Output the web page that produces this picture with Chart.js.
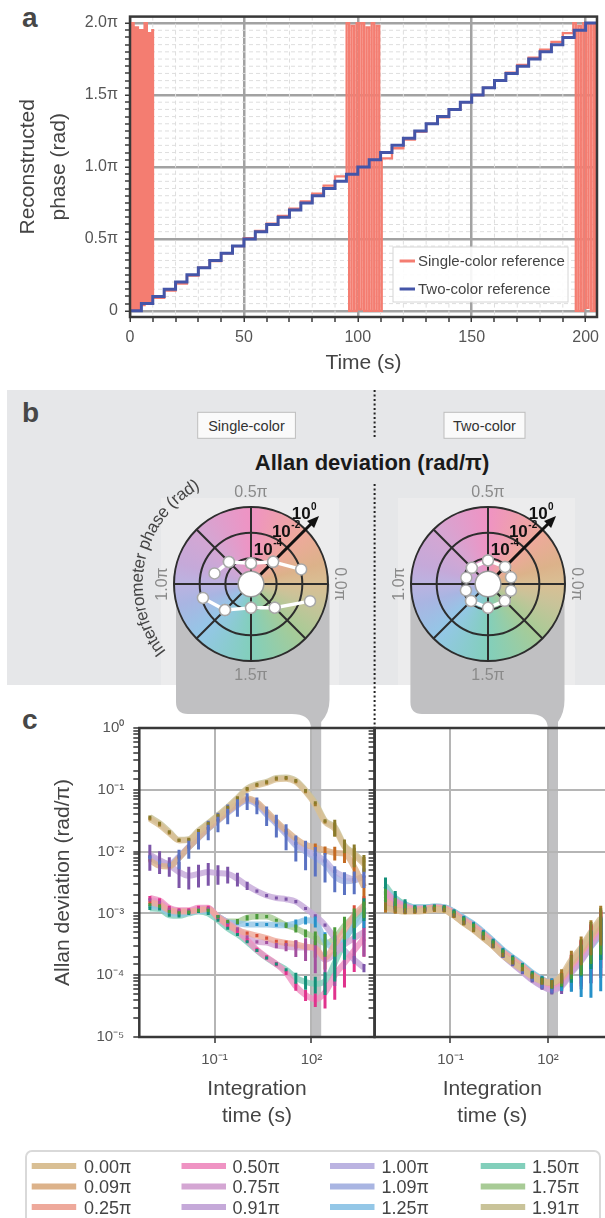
<!DOCTYPE html>
<html>
<head>
<meta charset="utf-8">
<title>Phase reconstruction and Allan deviation</title>
<script src="https://cdn.jsdelivr.net/npm/chart.js@4.4.1/dist/chart.umd.min.js"></script>
<style>
  html, body { margin: 0; padding: 0; }
  body { position: relative; width: 605px; height: 1218px; overflow: hidden; background: #fff; }
  .layer { position: absolute; left: 0; top: 0; }
  canvas { position: absolute; }
</style>
</head>
<body>
<svg class="layer" id="back" width="605" height="1218" font-family="'Liberation Sans', Arial, sans-serif">
  <!-- panel b background -->
  <rect x="7" y="390" width="598" height="295" fill="#e6e7e9"/>
  <rect x="161" y="498" width="178" height="187" fill="#ececed"/>
  <rect x="398" y="498" width="177" height="187" fill="#ececed"/>
  <!-- gray funnels: wheel slice -> highlighted integration time -->
  <path d="M176,584 H329.5 V700 Q329.5,713 321.2,722 V1037 H310.8 V726 Q309,714 292,714 H188 Q176,714 176,702 Z" fill="#c0c0c2"/>
  <path d="M410.4,584 H564.5 V700 Q564.5,713 558,722 V1037 H547.6 V726 Q546,714 529,714 H422 Q410.4,714 410.4,702 Z" fill="#c0c0c2"/>
  <!-- dotted divider -->
  <line x1="374.6" y1="390" x2="374.6" y2="438" stroke="#222" stroke-width="2" stroke-dasharray="2 2.5"/>
  <line x1="374.6" y1="484" x2="374.6" y2="728" stroke="#222" stroke-width="2" stroke-dasharray="2 2.5"/>
  <!-- panel letters -->
  <text x="22" y="26.7" font-size="28" font-weight="bold" fill="#474747">a</text>
  <text x="22" y="421.7" font-size="28" font-weight="bold" fill="#474747">b</text>
  <text x="22" y="728.6" font-size="28" font-weight="bold" fill="#474747">c</text>
  <!-- panel b headers -->
  <rect x="197.7" y="412.3" width="97.7" height="26" fill="#fafafa" stroke="#bdbdbd" stroke-width="1"/>
  <text x="246.5" y="430.5" font-size="14.5" fill="#333" text-anchor="middle">Single-color</text>
  <rect x="444" y="412.3" width="81" height="26" fill="#fafafa" stroke="#bdbdbd" stroke-width="1"/>
  <text x="484.5" y="430.5" font-size="14.5" fill="#333" text-anchor="middle">Two-color</text>
  <text x="372" y="469.5" font-size="22" font-weight="bold" fill="#1a1a1a" text-anchor="middle">Allan deviation (rad/π)</text>
</svg>

<canvas id="phaseChart" width="605" height="380" style="left:0;top:0"></canvas>
<canvas id="wheelSingle" width="280" height="280" style="left:111px;top:444px"></canvas>
<canvas id="wheelTwo" width="280" height="280" style="left:348px;top:444px"></canvas>
<canvas id="allanSingle" width="376" height="460" style="left:0;top:700px"></canvas>
<canvas id="allanTwo" width="250" height="460" style="left:360px;top:700px"></canvas>

<svg class="layer" id="front" width="605" height="1218" font-family="'Liberation Sans', Arial, sans-serif">
  <!-- panel a legend -->
  <rect x="393" y="247" width="175" height="55" fill="rgba(255,255,255,0.9)" stroke="#d6d6d6" stroke-width="1"/>
  <line x1="399.6" y1="261" x2="415" y2="261" stroke="#f47d71" stroke-width="3"/>
  <text x="418" y="266.3" font-size="15" fill="#444">Single-color reference</text>
  <line x1="399.6" y1="289" x2="415" y2="289" stroke="#4455a8" stroke-width="3"/>
  <text x="418" y="294.3" font-size="15" fill="#444">Two-color reference</text>
  <!-- panel c legend frame -->
  <rect x="26" y="1151" width="574" height="90" rx="6" fill="#fff" stroke="#d9d9d9" stroke-width="2"/>
  <g id="phaseLegend"></g>
</svg>

<script>
Chart.defaults.font.family = "'Liberation Sans', Arial, sans-serif";
Chart.defaults.color = "#555";

/* ================== PANEL A DATA ================== */
// two-color reference: one 0.05π step every 5 s
const twoColorTime = [0,5,10,15,20,25,30,35,40,45,50,55,60,65,70,75,80,85,90,95,100,105,110,115,120,125,130,135,140,145,150,155,160,165,170,175,180,185,190,195,200,205];
const twoColorPhase = [0,0.05,0.10,0.15,0.20,0.25,0.30,0.35,0.40,0.45,0.50,0.55,0.60,0.65,0.70,0.75,0.80,0.85,0.90,0.95,1.00,1.05,1.10,1.15,1.20,1.25,1.30,1.35,1.40,1.45,1.50,1.55,1.60,1.65,1.70,1.75,1.80,1.85,1.90,1.95,2.00,2.00];

// single-color reference: same steps, slightly off, wrapping 0 <-> 2π near 0 and π
const singleColorTime = [0,0.6,1.6,2.5,3.5,4.4,5.4,6.4,7.4,8.3,9.3,9.8,10.1,
  15,20,25,30,35,40,45,50,55,60,65,70,75,80,85,90,
  95.1,96.2,97.3,98.4,99.5,100.6,101.7,102.8,103.9,105.0,106.1,107.2,108.3,109.4,110.5,
  115,120,125,130,135,140,145,150,155,160,165,170,175,180,185,190,
  194.6,195.7,196.8,197.9,199.0,200.1,201.2,202.3,203.4,204.4,204.8,205];
const singleColorPhase = [0,2.0,0.0,1.97,0.01,1.95,0.04,2.0,0.05,1.93,0.05,1.95,0.09,
  0.14,0.19,0.245,0.30,0.345,0.40,0.45,0.505,0.555,0.605,0.66,0.71,0.76,0.815,0.87,0.935,
  2.0,0.0,1.98,0.0,2.0,0.01,2.0,0.0,1.97,0.0,2.0,0.0,1.98,0.0,1.06,
  1.13,1.19,1.245,1.30,1.345,1.40,1.45,1.50,1.55,1.60,1.655,1.71,1.76,1.815,1.87,1.93,
  2.0,0.0,1.98,0.0,2.0,0.02,2.0,0.0,2.0,0.0,2.0,2.0];

/* ================== PANEL C DATA ================== */
// integration times (s)
const tau = [0.001,0.002,0.004,0.008,0.016,0.032,0.064,0.128,0.256,0.512,1.024,2.048,4.096,8.192,16.384,32.768,65.536,131.072,262.144,524.288,1048.576,2097.152,4194.304];

const phaseNames = ["0.00π","0.09π","0.25π","0.50π","0.75π","0.91π","1.00π","1.09π","1.25π","1.50π","1.75π","1.91π"];
const phaseValues = [0, 0.09, 0.25, 0.5, 0.75, 0.91, 1.0, 1.09, 1.25, 1.5, 1.75, 1.91];
const pastelColors = ["#d9bf94","#dcb28a","#eea99b","#ef93c3","#d4a6d3","#c5a9d9","#bbb3e1","#a9b5e2","#94c7e7","#82cfbb","#a8cb96","#c9c399"];
const darkColors = ["#a57c2c","#c46a22","#d9513a","#e0338d","#a3509f","#7d55a8","#6467b5","#5a72c2","#2591c9","#139079","#4a9a3a","#8a7b2b"];

// log10 Allan deviation (rad/π), single-color reference
const single000 = [-1.47,-1.57,-1.70,-1.82,-1.81,-1.68,-1.56,-1.43,-1.30,-1.15,-1.00,-0.93,-0.89,-0.83,-0.82,-0.87,-1.03,-1.24,-1.52,-1.63,-1.92,-2.05,-2.20];
const single009 = [-2.14,-2.23,-2.24,-2.10,-1.93,-1.77,-1.62,-1.49,-1.35,-1.23,-1.14,-1.20,-1.35,-1.51,-1.66,-1.79,-1.89,-1.93,-1.98,-2.02,-2.03,-2.25,-2.57];
const single025 = [-2.82,-2.86,-2.95,-2.97,-2.97,-2.95,-2.93,-3.06,-3.17,-3.27,-3.32,-3.36,-3.40,-3.45,-3.48,-3.50,-3.54,-3.56,-3.72,-3.50,-3.27,-3.03,-2.87];
const single050 = [-2.75,-2.79,-2.91,-2.95,-2.95,-2.91,-2.91,-3.07,-3.19,-3.29,-3.43,-3.59,-3.71,-3.82,-3.96,-4.18,-4.32,-4.39,-4.28,-4.00,-3.80,-3.60,-3.40];
const single075 = [-2.78,-2.82,-2.93,-2.96,-2.96,-2.93,-2.92,-3.05,-3.15,-3.25,-3.38,-3.46,-3.47,-3.52,-3.54,-3.55,-3.55,-3.57,-3.75,-3.65,-3.50,-3.40,-3.30];
const single091 = [-2.05,-2.14,-2.22,-2.33,-2.39,-2.36,-2.33,-2.35,-2.36,-2.44,-2.55,-2.64,-2.71,-2.75,-2.77,-2.81,-2.92,-3.04,-3.19,-3.40,-3.60,-3.75,-3.88];
const single100 = [-2.08,-2.15,-2.20,-2.08,-1.92,-1.77,-1.62,-1.49,-1.36,-1.24,-1.16,-1.22,-1.38,-1.53,-1.70,-1.87,-1.97,-2.05,-2.15,-2.32,-2.40,-2.45,-2.40];
const single109 = [-2.10,-2.18,-2.22,-2.10,-1.93,-1.78,-1.63,-1.50,-1.37,-1.25,-1.17,-1.24,-1.40,-1.55,-1.72,-1.90,-2.00,-2.10,-2.20,-2.40,-2.48,-2.47,-2.40];
const single125 = [-2.88,-2.90,-2.99,-3.01,-2.99,-2.96,-2.96,-3.05,-3.14,-3.16,-3.18,-3.18,-3.18,-3.19,-3.19,-3.16,-3.11,-3.13,-3.45,-3.55,-3.40,-3.20,-3.05];
const single150 = [-2.92,-2.93,-3.03,-3.04,-3.00,-2.97,-3.00,-3.11,-3.24,-3.34,-3.46,-3.60,-3.72,-3.82,-3.91,-4.04,-4.11,-4.14,-4.10,-3.80,-3.45,-3.15,-2.90];
const single175 = [-2.86,-2.88,-2.97,-2.99,-2.98,-2.95,-2.95,-3.05,-3.13,-3.13,-3.07,-3.05,-3.05,-3.11,-3.19,-3.24,-3.32,-3.39,-3.48,-3.40,-3.20,-3.05,-2.92];
const single191 = [-1.44,-1.54,-1.68,-1.81,-1.80,-1.66,-1.54,-1.41,-1.28,-1.13,-0.98,-0.91,-0.87,-0.81,-0.80,-0.85,-1.01,-1.21,-1.50,-1.60,-1.90,-2.03,-2.17];

// relative error (σ_err / σ), single-color reference
const singleErr000 = [0.05,0.05,0.05,0.05,0.05,0.05,0.05,0.05,0.05,0.05,0.05,0.05,0.05,0.05,0.05,0.05,0.05,0.05,0.05,0.25,0.25,0.3,0.3];
const singleErr009 = [0.05,0.05,0.05,0.05,0.05,0.05,0.05,0.05,0.05,0.05,0.05,0.05,0.05,0.05,0.05,0.05,0.1,0.15,0.15,0.25,0.3,0.45,0.5];
const singleErr025 = [0.06,0.06,0.06,0.06,0.06,0.06,0.06,0.06,0.06,0.06,0.06,0.06,0.06,0.06,0.1,0.15,0.2,0.3,0.35,0.6,0.5,0.45,0.4];
const singleErr050 = [0.08,0.08,0.08,0.08,0.08,0.08,0.08,0.08,0.08,0.08,0.08,0.08,0.08,0.08,0.08,0.15,0.2,0.25,0.45,0.6,0.6,0.55,0.5];
const singleErr075 = [0.06,0.06,0.06,0.06,0.06,0.06,0.06,0.06,0.06,0.06,0.06,0.06,0.06,0.1,0.15,0.3,0.4,0.6,0.7,0.7,0.6,0.6,0.6];
const singleErr091 = [0.45,0.4,0.35,0.45,0.4,0.4,0.4,0.35,0.3,0.25,0.15,0.06,0.06,0.06,0.06,0.06,0.06,0.06,0.06,0.12,0.15,0.15,0.15];
const singleErr100 = [0.05,0.05,0.05,0.05,0.05,0.05,0.05,0.05,0.05,0.05,0.05,0.05,0.05,0.05,0.05,0.05,0.05,0.05,0.05,0.05,0.05,0.05,0.05];
const singleErr109 = [0.05,0.05,0.05,0.35,0.35,0.35,0.35,0.35,0.35,0.35,0.3,0.3,0.35,0.4,0.45,0.45,0.5,0.5,0.5,0.45,0.4,0.4,0.35];
const singleErr125 = [0.05,0.05,0.05,0.05,0.05,0.05,0.05,0.05,0.05,0.05,0.05,0.05,0.05,0.05,0.05,0.15,0.15,0.2,0.4,0.5,0.4,0.4,0.35];
const singleErr150 = [0.05,0.05,0.05,0.05,0.05,0.05,0.05,0.05,0.05,0.05,0.05,0.05,0.05,0.05,0.05,0.2,0.25,0.3,0.4,0.5,0.5,0.45,0.4];
const singleErr175 = [0.06,0.06,0.06,0.06,0.06,0.06,0.06,0.06,0.06,0.1,0.1,0.1,0.06,0.06,0.1,0.15,0.15,0.25,0.4,0.5,0.4,0.35,0.3];
const singleErr191 = [0.05,0.05,0.05,0.05,0.05,0.05,0.05,0.05,0.05,0.05,0.05,0.05,0.05,0.05,0.05,0.05,0.05,0.05,0.05,0.3,0.25,0.4,0.3];

// log10 Allan deviation (rad/π), two-color reference
const two000 = [-2.92,-2.95,-2.97,-2.97,-2.96,-2.94,-2.95,-3.04,-3.16,-3.27,-3.40,-3.53,-3.68,-3.80,-3.91,-4.02,-4.10,-4.12,-4.00,-3.75,-3.55,-3.30,-3.08];
const two009 = [-2.90,-2.94,-2.96,-2.96,-2.95,-2.93,-2.94,-3.03,-3.15,-3.26,-3.39,-3.52,-3.67,-3.79,-3.90,-4.02,-4.10,-4.13,-4.03,-3.80,-3.60,-3.36,-3.14];
const two025 = [-2.80,-2.88,-2.92,-2.94,-2.93,-2.91,-2.92,-3.00,-3.11,-3.21,-3.34,-3.48,-3.63,-3.75,-3.86,-3.99,-4.08,-4.12,-4.05,-3.83,-3.63,-3.40,-3.18];
const two050 = [-2.65,-2.80,-2.88,-2.92,-2.92,-2.90,-2.91,-2.99,-3.10,-3.20,-3.33,-3.47,-3.62,-3.74,-3.86,-3.99,-4.09,-4.16,-4.08,-3.86,-3.66,-3.43,-3.22];
const two075 = [-2.75,-2.86,-2.91,-2.94,-2.93,-2.91,-2.92,-3.01,-3.13,-3.24,-3.37,-3.51,-3.67,-3.80,-3.93,-4.06,-4.16,-4.22,-4.15,-3.93,-3.74,-3.50,-3.28];
const two091 = [-2.78,-2.88,-2.93,-2.95,-2.94,-2.92,-2.93,-3.02,-3.14,-3.25,-3.38,-3.52,-3.68,-3.82,-3.95,-4.08,-4.18,-4.24,-4.18,-3.96,-3.77,-3.53,-3.30];
const two100 = [-2.82,-2.90,-2.94,-2.95,-2.94,-2.92,-2.93,-3.02,-3.14,-3.25,-3.38,-3.52,-3.68,-3.81,-3.94,-4.07,-4.17,-4.23,-4.16,-3.94,-3.75,-3.52,-3.30];
const two109 = [-2.75,-2.86,-2.91,-2.93,-2.93,-2.91,-2.92,-3.01,-3.13,-3.23,-3.37,-3.51,-3.66,-3.79,-3.92,-4.05,-4.15,-4.21,-4.14,-3.92,-3.74,-3.50,-3.28];
const two125 = [-2.62,-2.78,-2.86,-2.90,-2.90,-2.89,-2.90,-2.97,-3.07,-3.17,-3.30,-3.44,-3.59,-3.71,-3.83,-3.96,-4.06,-4.13,-4.10,-3.92,-3.75,-3.54,-3.34];
const two150 = [-2.55,-2.75,-2.85,-2.90,-2.90,-2.89,-2.90,-2.97,-3.08,-3.18,-3.31,-3.45,-3.60,-3.72,-3.84,-3.97,-4.07,-4.14,-4.10,-3.90,-3.72,-3.50,-3.30];
const two175 = [-2.70,-2.83,-2.89,-2.92,-2.92,-2.90,-2.91,-2.99,-3.10,-3.20,-3.33,-3.47,-3.62,-3.74,-3.86,-3.99,-4.09,-4.15,-4.08,-3.88,-3.70,-3.47,-3.27];
const two191 = [-2.88,-2.93,-2.96,-2.96,-2.95,-2.93,-2.94,-3.03,-3.15,-3.26,-3.39,-3.52,-3.67,-3.79,-3.90,-4.02,-4.10,-4.14,-4.04,-3.80,-3.58,-3.33,-3.12];

// relative error, two-color reference
const twoErr000 = [0.15,0.12,0.1,0.08,0.08,0.08,0.08,0.08,0.08,0.08,0.08,0.08,0.08,0.08,0.08,0.08,0.12,0.15,0.25,0.4,0.5,0.55,0.6];
const twoErr009 = [0.15,0.12,0.1,0.08,0.08,0.08,0.08,0.08,0.08,0.08,0.08,0.08,0.08,0.08,0.08,0.08,0.12,0.15,0.2,0.35,0.45,0.5,0.55];
const twoErr025 = [0.2,0.15,0.12,0.08,0.08,0.08,0.08,0.08,0.08,0.08,0.08,0.08,0.08,0.08,0.08,0.08,0.12,0.15,0.2,0.4,0.5,0.55,0.6];
const twoErr050 = [0.25,0.2,0.15,0.08,0.08,0.08,0.08,0.08,0.08,0.08,0.08,0.08,0.08,0.08,0.08,0.08,0.15,0.2,0.3,0.55,0.7,0.8,0.85];
const twoErr075 = [0.2,0.15,0.12,0.08,0.08,0.08,0.08,0.08,0.08,0.08,0.08,0.08,0.08,0.08,0.08,0.08,0.12,0.15,0.25,0.45,0.6,0.7,0.75];
const twoErr091 = [0.2,0.15,0.12,0.08,0.08,0.08,0.08,0.08,0.08,0.08,0.08,0.08,0.08,0.08,0.08,0.08,0.12,0.15,0.25,0.5,0.65,0.75,0.8];
const twoErr100 = [0.2,0.15,0.12,0.08,0.08,0.08,0.08,0.08,0.08,0.08,0.08,0.08,0.08,0.08,0.08,0.08,0.12,0.15,0.2,0.35,0.5,0.6,0.65];
const twoErr109 = [0.2,0.15,0.12,0.08,0.08,0.08,0.08,0.08,0.08,0.08,0.08,0.08,0.08,0.08,0.08,0.08,0.12,0.15,0.2,0.35,0.5,0.6,0.65];
const twoErr125 = [0.3,0.25,0.15,0.08,0.08,0.08,0.08,0.08,0.08,0.08,0.08,0.08,0.08,0.08,0.08,0.08,0.12,0.2,0.3,0.55,0.75,0.85,0.88];
const twoErr150 = [0.35,0.3,0.2,0.08,0.08,0.08,0.08,0.08,0.08,0.08,0.08,0.08,0.08,0.08,0.08,0.08,0.12,0.15,0.2,0.4,0.5,0.6,0.65];
const twoErr175 = [0.25,0.2,0.12,0.08,0.08,0.08,0.08,0.08,0.08,0.08,0.08,0.08,0.08,0.08,0.08,0.08,0.12,0.15,0.2,0.35,0.5,0.55,0.6];
const twoErr191 = [0.15,0.12,0.1,0.08,0.08,0.08,0.08,0.08,0.08,0.08,0.08,0.08,0.08,0.08,0.08,0.08,0.12,0.15,0.2,0.35,0.45,0.55,0.6];

const singleSeries = [single000, single009, single025, single050, single075, single091, single100, single109, single125, single150, single175, single191];
const singleErrors = [singleErr000, singleErr009, singleErr025, singleErr050, singleErr075, singleErr091, singleErr100, singleErr109, singleErr125, singleErr150, singleErr175, singleErr191];
const twoSeries = [two000, two009, two025, two050, two075, two091, two100, two109, two125, two150, two175, two191];
const twoErrors = [twoErr000, twoErr009, twoErr025, twoErr050, twoErr075, twoErr091, twoErr100, twoErr109, twoErr125, twoErr150, twoErr175, twoErr191];

/* ================== PANEL B SETTINGS ================== */
const wheelIndex = 17;                // tau index shown on the wheels (gray strip)
const wheelUpper = [1, 2, 3, 4, 5];   // 0.09π .. 0.91π
const wheelLower = [7, 8, 9, 10, 11]; // 1.09π .. 1.91π
const wheelRingValues = [0, -2, -4];  // log10 rings labelled on the arrow
const wheelAxisPhases = [0, 0.5, 1.0, 1.5];
const wheelSteps = 200;               // angular resolution 0.01π

/* ================== HELPERS ================== */
const SUP = { "-": "⁻", "0": "⁰", "1": "¹", "2": "²", "3": "³", "4": "⁴", "5": "⁵" };
const isMult = (v, step) => Math.abs(v / step - Math.round(v / step)) < 1e-6;
const isDecade = v => Math.abs(Math.log10(v) - Math.round(Math.log10(v))) < 1e-6;
const decadeLabel = v => "10" + String(Math.round(Math.log10(v))).split("").map(c => SUP[c]).join("");
const phaseIndex = p => (wheelSteps - Math.round(p * 100)) % wheelSteps;

/* ================== PLUGINS ================== */
const framePlugin = {
  id: "frame",
  afterDraw(chart) {
    const { ctx, chartArea: a } = chart;
    ctx.save();
    ctx.strokeStyle = "#383838";
    ctx.lineWidth = 2.5;
    ctx.strokeRect(a.left, a.top, a.right - a.left, a.bottom - a.top);
    ctx.restore();
  }
};

const minorGridPlugin = {
  id: "minorGrid",
  beforeDatasetsDraw(chart) {
    const { ctx, chartArea: a, scales: { x, y } } = chart;
    ctx.save();
    ctx.strokeStyle = "#dedede";
    ctx.lineWidth = 1;
    ctx.setLineDash([4, 3]);
    x.ticks.forEach(t => {
      if (isMult(t.value, 50)) return;
      const px = x.getPixelForValue(t.value);
      ctx.beginPath(); ctx.moveTo(px, a.top); ctx.lineTo(px, a.bottom); ctx.stroke();
    });
    y.ticks.forEach(t => {
      if (isMult(t.value, 0.5)) return;
      const py = y.getPixelForValue(t.value);
      ctx.beginPath(); ctx.moveTo(a.left, py); ctx.lineTo(a.right, py); ctx.stroke();
    });
    ctx.restore();
  }
};

const errorBarPlugin = {
  id: "errorBars",
  afterDatasetsDraw(chart) {
    const { ctx, chartArea: a, scales: { x, y } } = chart;
    ctx.save();
    ctx.beginPath();
    ctx.rect(a.left, a.top, a.right - a.left, a.bottom - a.top);
    ctx.clip();
    ctx.lineWidth = 3;
    chart.data.datasets.forEach(ds => {
      ctx.strokeStyle = ds.barColor;
      ds.data.forEach((p, i) => {
        const r = ds.errRatio[i];
        const px = x.getPixelForValue(p.x);
        let top = y.getPixelForValue(p.y * (1 + r));
        const low = p.y * (1 - r);
        let bot = low > 0 ? y.getPixelForValue(low) : a.bottom + 5;
        if (bot - top < 3) { const m = (top + bot) / 2; top = m - 1.5; bot = m + 1.5; }
        ctx.beginPath(); ctx.moveTo(px, top); ctx.lineTo(px, bot); ctx.stroke();
      });
    });
    ctx.restore();
  }
};

function drawPower(ctx, cx, cy, exp) {
  ctx.save();
  ctx.fillStyle = "#111";
  ctx.textBaseline = "middle";
  ctx.textAlign = "left";
  const base = "bold 17px 'Liberation Sans', Arial, sans-serif";
  const small = "bold 10px 'Liberation Sans', Arial, sans-serif";
  ctx.font = base;
  const w1 = ctx.measureText("10").width;
  ctx.font = small;
  const w2 = ctx.measureText(String(exp)).width;
  const x0 = cx - (w1 + w2) / 2;
  ctx.font = base;
  ctx.fillText("10", x0, cy);
  ctx.font = small;
  ctx.fillText(String(exp), x0 + w1 + 0.5, cy - 7);
  ctx.restore();
}

function drawArcText(ctx, text, cx, cy, radius, startDeg) {
  ctx.save();
  ctx.font = "17px 'Liberation Sans', Arial, sans-serif";
  ctx.fillStyle = "#444";
  ctx.textAlign = "center";
  ctx.textBaseline = "middle";
  let ang = startDeg * Math.PI / 180;
  for (const ch of text) {
    const half = ctx.measureText(ch).width / 2 / radius;
    ang += half;
    ctx.save();
    ctx.translate(cx + radius * Math.cos(ang), cy + radius * Math.sin(ang));
    ctx.rotate(ang + Math.PI / 2);
    ctx.fillText(ch, 0, 0);
    ctx.restore();
    ang += half;
  }
  ctx.restore();
}

const arrowIndex = phaseIndex(0.25);

const wheelPlugin = {
  id: "phaseWheel",
  beforeDraw(chart) {
    const r = chart.scales.r, ctx = chart.ctx;
    const grad = ctx.createConicGradient(0, r.xCenter, r.yCenter);
    const stops = phaseValues.map((p, k) => [((2 - p) / 2) % 1, pastelColors[k]]).sort((a, b) => a[0] - b[0]);
    stops.forEach(s => grad.addColorStop(s[0], s[1]));
    grad.addColorStop(1, pastelColors[0]);
    ctx.save();
    ctx.beginPath();
    ctx.arc(r.xCenter, r.yCenter, r.drawingArea, 0, 2 * Math.PI);
    ctx.fillStyle = grad;
    ctx.fill();
    ctx.restore();
  },
  beforeDatasetsDraw(chart) {
    const r = chart.scales.r, ctx = chart.ctx;
    const cx = r.xCenter, cy = r.yCenter;
    const tip = r.getPointPosition(arrowIndex, r.drawingArea * 1.25);
    const ang = Math.atan2(tip.y - cy, tip.x - cx);
    const c = Math.cos(ang), s = Math.sin(ang);
    ctx.save();
    ctx.strokeStyle = "#111";
    ctx.fillStyle = "#111";
    ctx.lineWidth = 3;
    ctx.beginPath(); ctx.moveTo(cx, cy); ctx.lineTo(tip.x - 9 * c, tip.y - 9 * s); ctx.stroke();
    ctx.beginPath();
    ctx.moveTo(tip.x, tip.y);
    ctx.lineTo(tip.x - 12 * c - 5 * s, tip.y - 12 * s + 5 * c);
    ctx.lineTo(tip.x - 12 * c + 5 * s, tip.y - 12 * s - 5 * c);
    ctx.closePath(); ctx.fill();
    ctx.beginPath();
    ctx.arc(cx, cy, r.getDistanceFromCenterForValue(-5), 0, 2 * Math.PI);
    ctx.fillStyle = "#fff"; ctx.fill();
    ctx.strokeStyle = "#9a9a9a"; ctx.lineWidth = 1.5; ctx.stroke();
    ctx.restore();
    wheelRingValues.forEach(v => {
      const p = r.getPointPosition(arrowIndex, r.getDistanceFromCenterForValue(v));
      drawPower(ctx, p.x - 1.5, p.y - 15.5, v);
    });
  },
  afterDraw(chart, args, opts) {
    const r = chart.scales.r, ctx = chart.ctx;
    ctx.save();
    ctx.font = "16px 'Liberation Sans', Arial, sans-serif";
    ctx.fillStyle = "#8a8a8a";
    ctx.textAlign = "center";
    ctx.textBaseline = "middle";
    wheelAxisPhases.forEach(ph => {
      const vertical = isMult(ph, 1);
      const p = r.getPointPosition(phaseIndex(ph), r.drawingArea + (vertical ? 11.5 : 14.5));
      ctx.save();
      ctx.translate(p.x, p.y);
      if (vertical) ctx.rotate(ph === 0 ? Math.PI / 2 : -Math.PI / 2);
      ctx.fillText(ph.toFixed(1) + "π", 0, 0);
      ctx.restore();
    });
    ctx.restore();
    if (opts.title) drawArcText(ctx, opts.title, r.xCenter, r.yCenter, 113, 141.5);
  }
};

/* ================== PANEL A CHART ================== */
new Chart(document.getElementById("phaseChart"), {
  type: "line",
  data: {
    datasets: [
      {
        label: "Two-color reference",
        data: twoColorTime.map((t, i) => ({ x: t, y: twoColorPhase[i] })),
        borderColor: "#4455a8",
        borderWidth: 3,
        pointRadius: 0,
        stepped: true,
        order: 0
      },
      {
        label: "Single-color reference",
        data: singleColorTime.map((t, i) => ({ x: t, y: singleColorPhase[i] })),
        borderColor: "#f47d71",
        borderWidth: 2.3,
        pointRadius: 0,
        stepped: true,
        order: 1
      }
    ]
  },
  options: {
    responsive: false,
    animation: false,
    devicePixelRatio: 1,
    layout: { padding: { left: 0, top: 8, right: 2, bottom: 0 } },
    plugins: { legend: { display: false }, tooltip: { enabled: false } },
    scales: {
      x: {
        type: "linear", min: 0, max: 205,
        afterBuildTicks: s => { const t = []; for (let v = 0; v <= 200; v += 10) t.push({ value: v }); s.ticks = t; },
        afterFit: s => { s.height = 63; },
        ticks: { autoSkip: false, maxRotation: 0, padding: 6, font: { size: 16 }, color: "#555",
          callback: v => isMult(v, 50) ? String(v) : "" },
        grid: { color: "#a2a2a2", lineWidth: c => isMult(c.tick.value, 50) ? 2.5 : 0,
          tickLength: 5, tickColor: "#3a3a3a", tickWidth: 1.5 },
        border: { display: false },
        title: { display: true, text: "Time (s)", color: "#444", font: { size: 21 }, padding: { top: 0, bottom: 4.4 } }
      },
      y: {
        type: "linear", min: -0.043, max: 2.045,
        afterBuildTicks: s => { const t = []; for (let k = 0; k <= 40; k++) t.push({ value: Math.round(k * 5) / 100 }); s.ticks = t; },
        afterFit: s => { s.width = 130; },
        ticks: { autoSkip: false, padding: 7, font: { size: 16 }, color: "#555",
          callback: v => isMult(v, 0.5) ? (v === 0 ? "0" : v.toFixed(1) + "π") : "" },
        grid: { color: "#a2a2a2", lineWidth: c => isMult(c.tick.value, 0.5) ? 2.5 : 0,
          tickLength: 5, tickColor: "#3a3a3a", tickWidth: 1.5 },
        border: { display: false },
        title: { display: true, text: ["Reconstructed", "phase (rad)"], color: "#444",
          font: { size: 21, lineHeight: 1.476 }, padding: { top: 13, bottom: 0 } }
      }
    }
  },
  plugins: [minorGridPlugin, framePlugin]
});

/* ================== PANEL B CHARTS ================== */
function wheelChart(id, series, title) {
  const labels = [];
  for (let j = 0; j < wheelSteps; j++) labels.push(((wheelSteps - j) % wheelSteps) / 100);
  // one two-point dataset per arc segment, so the radar loop closes onto itself
  const segmentData = (k1, k2) => {
    const d = new Array(wheelSteps).fill(null);
    d[phaseIndex(phaseValues[k1])] = series[k1][wheelIndex];
    d[phaseIndex(phaseValues[k2])] = series[k2][wheelIndex];
    return d;
  };
  const datasets = [];
  [wheelUpper, wheelLower].forEach(arc => {
    for (let n = 0; n < arc.length - 1; n++) {
      datasets.push({
        label: phaseNames[arc[n]] + "–" + phaseNames[arc[n + 1]],
        data: segmentData(arc[n], arc[n + 1]),
        borderColor: "#fff",
        borderWidth: 3.5,
        pointRadius: 5.5,
        pointBackgroundColor: "#fff",
        pointBorderColor: "#a8a8a8",
        pointBorderWidth: 1.5,
        fill: false,
        spanGaps: true
      });
    }
  });
  return new Chart(document.getElementById(id), {
    type: "radar",
    data: { labels, datasets },
    options: {
      responsive: false,
      animation: false,
      devicePixelRatio: 1,
      layout: { padding: 63 },
      plugins: { legend: { display: false }, tooltip: { enabled: false }, phaseWheel: { title } },
      elements: { line: { tension: 0 } },
      scales: {
        r: {
          min: -6, max: 0,
          startAngle: 90,
          ticks: { display: false, stepSize: 2 },
          grid: { circular: true, color: "#2d2d2d", lineWidth: 2 },
          angleLines: { color: "#2d2d2d", lineWidth: c => c.index % 25 === 0 ? 2 : 0 },
          pointLabels: { display: false }
        }
      }
    },
    plugins: [wheelPlugin]
  });
}

wheelChart("wheelSingle", singleSeries, "Interferometer phase (rad)");
wheelChart("wheelTwo", twoSeries, null);

/* ================== PANEL C CHARTS ================== */
function allanChart(id, seriesList, errList, cfg) {
  const datasets = seriesList.map((s, k) => ({
    label: phaseNames[k],
    data: tau.map((t, i) => ({ x: t, y: Math.pow(10, s[i]) })),
    borderColor: pastelColors[k] + "d0",
    borderWidth: 6,
    pointRadius: 0,
    cubicInterpolationMode: "monotone",
    errRatio: errList[k],
    barColor: darkColors[k]
  }));
  return new Chart(document.getElementById(id), {
    type: "line",
    data: { datasets },
    options: {
      responsive: false,
      animation: false,
      devicePixelRatio: 1,
      layout: { padding: cfg.padding },
      plugins: { legend: { display: false }, tooltip: { enabled: false } },
      scales: {
        x: {
          type: "logarithmic", min: cfg.xMin, max: cfg.xMax,
          afterBuildTicks: s => { s.ticks = [0.1, 100].map(v => ({ value: v })); },
          afterFit: s => { s.height = 123; },
          ticks: { autoSkip: false, maxRotation: 0, padding: 8, font: { size: 15 }, color: "#555", callback: v => decadeLabel(v) },
          grid: { color: "#b5b5b5", lineWidth: 2, tickLength: 6, tickColor: "#333", tickWidth: 1.5 },
          border: { display: false },
          title: { display: true, text: ["Integration", "time (s)"], color: "#444",
            font: { size: 21, lineHeight: 1.262 }, padding: { top: 0, bottom: 31 } }
        },
        y: {
          type: "logarithmic", min: 1e-5, max: 1,
          afterFit: s => { s.width = cfg.yWidth; },
          ticks: { autoSkip: false, display: cfg.yLabels, padding: 9, font: { size: 15 }, color: "#555",
            callback: v => isDecade(v) ? decadeLabel(v) : "" },
          grid: { color: "#b5b5b5", lineWidth: c => isDecade(c.tick.value) ? 2 : 0,
            tickLength: 6, tickColor: "#333", tickWidth: 1.5 },
          border: { display: false },
          title: { display: cfg.yLabels, text: "Allan deviation (rad/π)", color: "#444",
            font: { size: 21 }, padding: { top: 51, bottom: 0 } }
        }
      }
    },
    plugins: [errorBarPlugin, framePlugin]
  });
}

allanChart("allanSingle", singleSeries, singleErrors, {
  xMin: 4.72e-4, xMax: 8954, yWidth: 139.3, yLabels: true,
  padding: { left: 0, top: 28, right: 1.4, bottom: 0 }
});
allanChart("allanTwo", twoSeries, twoErrors, {
  xMin: 4.62e-4, xMax: 8090, yWidth: 14.6, yLabels: false,
  padding: { left: 0, top: 28, right: 0, bottom: 0 }
});

/* ================== PHASE LEGEND ================== */
const legendG = document.getElementById("phaseLegend");
const legendSwatchX = [31.7, 181.5, 330, 480.7];
const legendTextX = [84, 232.4, 381.5, 532];
const legendRowY = [1166, 1186.5, 1207];
const NS = "http://www.w3.org/2000/svg";
phaseNames.forEach((name, k) => {
  const col = Math.floor(k / 3), row = k % 3;
  const ln = document.createElementNS(NS, "line");
  ln.setAttribute("x1", legendSwatchX[col]);
  ln.setAttribute("x2", legendSwatchX[col] + 44.5);
  ln.setAttribute("y1", legendRowY[row]);
  ln.setAttribute("y2", legendRowY[row]);
  ln.setAttribute("stroke", pastelColors[k]);
  ln.setAttribute("stroke-width", "6");
  legendG.appendChild(ln);
  const tx = document.createElementNS(NS, "text");
  tx.setAttribute("x", legendTextX[col]);
  tx.setAttribute("y", legendRowY[row] + 6.5);
  tx.setAttribute("font-size", "18");
  tx.setAttribute("fill", "#444");
  tx.textContent = name;
  legendG.appendChild(tx);
});
</script>
</body>
</html>
